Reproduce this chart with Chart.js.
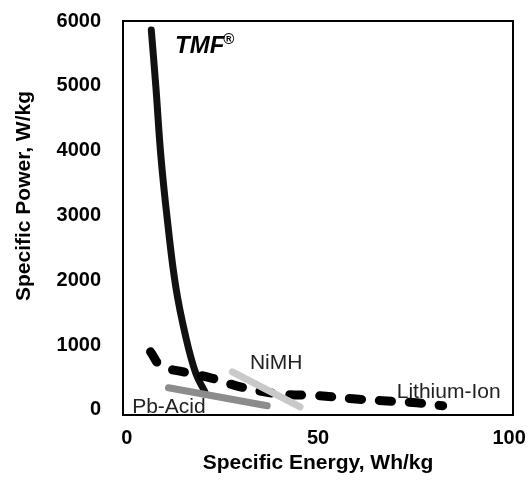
<!DOCTYPE html>
<html lang="en">
<head>
<meta charset="UTF-8">
<title>Specific Power vs Specific Energy</title>
<script src="https://cdn.jsdelivr.net/npm/chart.js"></script>
<style>
    body{ margin:0; background:#fff; }
    #grafica{ width:531px; height:480px; }
</style>
</head>
<body>
<div id="grafica">
    <canvas id="miGrafica" width="531" height="480"></canvas>
</div>
<script>
    // Datos (energia Wh/kg, potencia W/kg)
    const tmfEnergy = [6.4, 7.6, 8.9, 10.6, 12.8, 15.4, 18.0, 20.4];
    const tmfPower  = [5860, 4980, 3920, 2930, 1900, 1130, 570, 280];

    const liEnergy = [6.2, 8.9, 14.8, 21.9, 29.7, 39.3, 50.5, 59.1, 66.9, 75.8, 82.6];
    const liPower  = [895, 680, 586, 494, 355, 250, 216, 170, 139, 108, 62];

    const pbEnergy = [10.9, 36.7];
    const pbPower  = [340, 62];

    const nimhEnergy = [27.6, 45.3];
    const nimhPower  = [586, 46];

    const xTicks = [0, 50, 100];
    const yTicks = [0, 1000, 2000, 3000, 4000, 5000, 6000];

    // etiquetas dentro de la grafica: [texto, energia, potencia]
    const seriesLabels = [
        ['NiMH', 32.2, 630],
        ['Lithium-Ion', 70.6, 182],
        ['Pb-Acid', 1.4, -45]
    ];

    const tituloY = 'Specific Power, W/kg';

    const pares = (xs, ys) => xs.map((x, i) => ({x: x, y: ys[i]}));

    const fuente = '"Liberation Sans", Arial, sans-serif';

    // caja y textos
    const cajaPlugin = {
        id: 'caja',
        beforeDatasetsDraw(chart){
            const {ctx, chartArea: a} = chart;
            ctx.save();
            ctx.strokeStyle = '#000';
            ctx.lineWidth = 2;
            ctx.strokeRect(a.left, a.top, a.right - a.left, a.bottom - a.top);
            ctx.restore();
        },
        afterDatasetsDraw(chart){
            const {ctx, scales} = chart;
            ctx.save();
            ctx.fillStyle = '#222';
            ctx.font = '21px ' + fuente;
            ctx.textBaseline = 'alphabetic';
            seriesLabels.forEach(l => {
                ctx.fillText(l[0], scales.x.getPixelForValue(l[1]), scales.y.getPixelForValue(l[2]));
            });
            // TMF con marca registrada
            ctx.fillStyle = '#000';
            ctx.font = 'italic bold 24px ' + fuente;
            const tx = scales.x.getPixelForValue(12.6);
            const ty = scales.y.getPixelForValue(5500);
            ctx.fillText('TMF', tx, ty);
            const w = ctx.measureText('TMF').width;
            ctx.font = 'bold 15px ' + fuente;
            ctx.fillText('®', tx + w - 1, ty - 9);
            ctx.restore();
        },
        afterDraw(chart){
            // titulo del eje y, un poco por encima del centro como en la original
            const {ctx} = chart;
            ctx.save();
            ctx.translate(24, 196);
            ctx.rotate(-Math.PI / 2);
            ctx.fillStyle = '#000';
            ctx.font = 'bold 21px ' + fuente;
            ctx.textAlign = 'center';
            ctx.textBaseline = 'middle';
            ctx.fillText(tituloY, 0, 0);
            ctx.restore();
        }
    };

    const config = {
        type: 'scatter',
        data: {
            datasets: [
                {
                    label: 'Pb-Acid',
                    data: pares(pbEnergy, pbPower),
                    showLine: true,
                    borderColor: '#8c8c8c',
                    borderWidth: 7,
                    borderCapStyle: 'round',
                    pointRadius: 0
                },
                {
                    label: 'NiMH',
                    data: pares(nimhEnergy, nimhPower),
                    showLine: true,
                    borderColor: '#c9c9c9',
                    borderWidth: 7,
                    borderCapStyle: 'round',
                    pointRadius: 0
                },
                {
                    label: 'Lithium-Ion',
                    data: pares(liEnergy, liPower),
                    showLine: true,
                    borderColor: '#000',
                    borderWidth: 9,
                    borderDash: [12, 18],
                    borderCapStyle: 'round',
                    tension: 0.4,
                    pointRadius: 0
                },
                {
                    label: 'TMF',
                    data: pares(tmfEnergy, tmfPower),
                    showLine: true,
                    borderColor: '#111',
                    borderWidth: 7,
                    borderCapStyle: 'round',
                    tension: 0.4,
                    pointRadius: 0
                }
            ]
        },
        options: {
            responsive: false,
            animation: false,
            layout: { padding: { top: 21, right: 18, left: 0, bottom: 0 } },
            plugins: {
                legend: { display: false },
                tooltip: { enabled: false }
            },
            scales: {
                x: {
                    type: 'linear',
                    min: -1,
                    max: 101,
                    afterBuildTicks: s => { s.ticks = xTicks.map(v => ({value: v})); },
                    afterFit: s => { s.height = 65; },
                    grid: { display: false },
                    border: { display: false },
                    ticks: {
                        padding: 3,
                        color: '#000',
                        callback: v => v,
                        font: { family: fuente, size: 20, weight: 'bold' }
                    },
                    title: {
                        display: true,
                        text: 'Specific Energy, Wh/kg',
                        color: '#000',
                        padding: { top: 0, bottom: 4 },
                        font: { family: fuente, size: 21, weight: 'bold' }
                    }
                },
                y: {
                    type: 'linear',
                    min: -80,
                    max: 6000,
                    afterBuildTicks: s => { s.ticks = yTicks.map(v => ({value: v})); },
                    afterFit: s => { s.width = 123; s.paddingTop = 0; s.paddingBottom = 0; },
                    grid: { display: false },
                    border: { display: false },
                    ticks: {
                        padding: 14,
                        color: '#000',
                        callback: v => v,
                        font: { family: fuente, size: 20, weight: 'bold' }
                    }
                }
            }
        },
        plugins: [cajaPlugin]
    };

    const ctx = document.getElementById('miGrafica').getContext('2d');
    new Chart(ctx, config);
</script>
</body>
</html>
